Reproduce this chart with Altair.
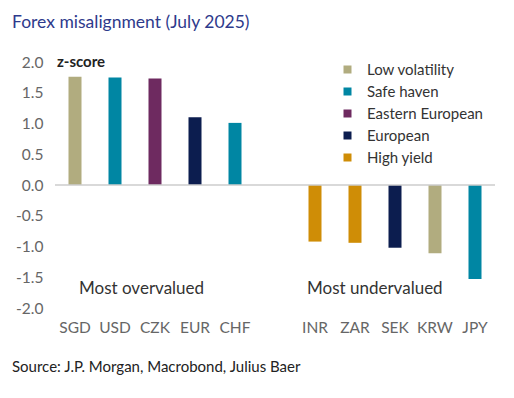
import altair as alt
import pandas as pd

currencies = ["SGD", "USD", "CZK", "EUR", "CHF", "INR", "ZAR", "SEK", "KRW", "JPY"]
zscores = [1.76, 1.75, 1.73, 1.10, 1.01, -0.92, -0.94, -1.02, -1.11, -1.53]
groups = ["Low volatility", "Safe haven", "Eastern European", "European", "Safe haven",
          "High yield", "High yield", "European", "Low volatility", "Safe haven"]
x_domain = ["SGD", "USD", "CZK", "EUR", "CHF", " ", "INR", "ZAR", "SEK", "KRW", "JPY"]
group_order = ["Low volatility", "Safe haven", "Eastern European", "European", "High yield"]
group_colors = ["#b1ac7f", "#0086a3", "#6e2a60", "#0c1d4f", "#cf8d06"]
y_ticks = [-2.0, -1.5, -1.0, -0.5, 0.0, 0.5, 1.0, 1.5, 2.0]

FONT = "Lato"

df = pd.DataFrame({"currency": currencies, "z": zscores, "group": groups})

xscale = alt.Scale(domain=x_domain, paddingInner=0.675, paddingOuter=0.3375)
xaxis = alt.Axis(title=None, labelAngle=0, ticks=False, domain=False,
                 labelPadding=12, labelFontSize=15.5, labelColor="#666666",
                 labelFont=FONT, grid=False)
yscale = alt.Scale(domain=[-2, 2], nice=False, zero=False)
yaxis = alt.Axis(title=None, values=y_ticks, ticks=False, domain=False, grid=False,
                 labelOverlap=False, labelBound=False,
                 labelExpr="replace(format(datum.value, '.1f'), '\u2212', '-')",
                 labelPadding=12, labelFontSize=15.5, labelColor="#666666",
                 labelFont=FONT)

bars = alt.Chart(df).mark_bar().encode(
    x=alt.X("currency:N", sort=x_domain, scale=xscale, axis=xaxis),
    y=alt.Y("z:Q", scale=yscale, axis=yaxis),
    color=alt.Color("group:N",
                    scale=alt.Scale(domain=group_order, range=group_colors),
                    legend=alt.Legend(title=None, orient="none", legendX=285, legendY=0,
                                      symbolType="square", symbolSize=64,
                                      symbolStrokeWidth=0, labelFontSize=15,
                                      labelColor="#333333", labelFont=FONT,
                                      labelOffset=12, rowPadding=6)),
)

zero = alt.Chart(pd.DataFrame({"z": [0]})).mark_rule(color="#cccccc", strokeWidth=1.5).encode(
    y=alt.Y("z:Q", scale=yscale, axis=yaxis))

def ann(cur, text, dx):
    return alt.Chart(pd.DataFrame({"currency": [cur], "z": [-1.69], "label": [text]})).mark_text(
        align="left", baseline="middle", dx=dx, fontSize=17, font=FONT, color="#333333").encode(
        x=alt.X("currency:N", sort=x_domain, scale=xscale, axis=xaxis),
        y=alt.Y("z:Q", scale=yscale, axis=yaxis), text="label:N")

over = ann("SGD", "Most overvalued", 4)
under = ann("INR", "Most undervalued", -8)

def label(text, x, y, size, color, weight="normal"):
    return alt.Chart(pd.DataFrame({"t": [text]})).mark_text(
        align="left", baseline="middle", fontSize=size, font=FONT, color=color,
        fontWeight=weight).encode(text="t:N", x=alt.value(x), y=alt.value(y))

title = label("Forex misalignment (July 2025)", -43, -39, 17.5, "#2e3a8c")
zlabel = label("z-score", 2, 0, 15, "#222222", "bold")
source = label("Source: J.P. Morgan, Macrobond, Julius Baer", -43, 305, 15, "#222222")

chart = alt.layer(bars, zero, over, under, title, zlabel, source).properties(
    width=440, height=246,
    autosize=alt.AutoSizeParams(type="none"),
    padding={"left": 47, "top": 54, "right": 11, "bottom": 82},
    background="white",
).configure_view(stroke=None)

chart.save("out.html", embed_options={"renderer": "svg", "actions": False})
